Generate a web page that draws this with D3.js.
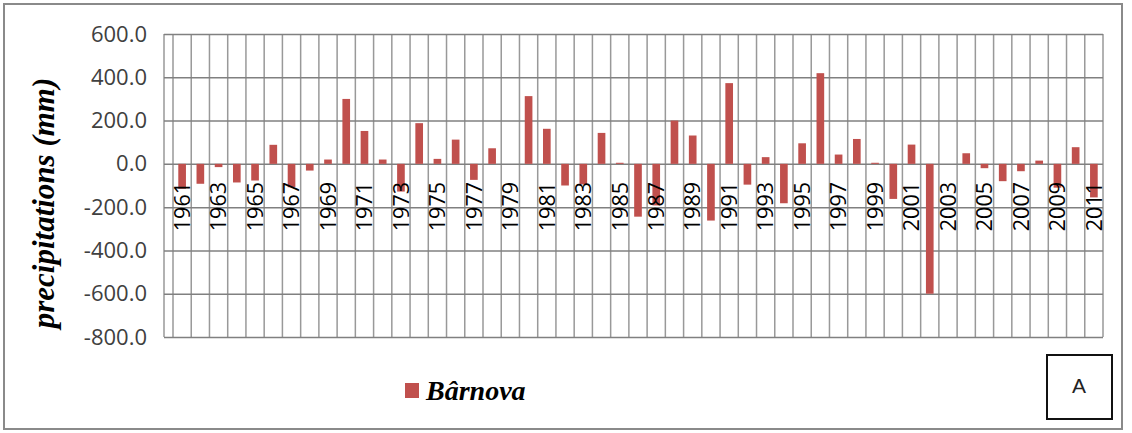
<!DOCTYPE html>
<html>
<head>
<meta charset="utf-8">
<script src="https://cdn.jsdelivr.net/npm/d3@7"></script>
<style>
  body { margin: 0; background: #fff; }
  svg { display: block; }
</style>
</head>
<body>
<div id="chart"></div>
<script>

// data: precipitation deviation per year (mm), Bârnova
var years       =   [1961, 1962, 1963, 1964, 1965, 1966, 1967, 1968, 1969, 1970,
                     1971, 1972, 1973, 1974, 1975, 1976, 1977, 1978, 1979, 1980,
                     1981, 1982, 1983, 1984, 1985, 1986, 1987, 1988, 1989, 1990,
                     1991, 1992, 1993, 1994, 1995, 1996, 1997, 1998, 1999, 2000,
                     2001, 2002, 2003, 2004, 2005, 2006, 2007, 2008, 2009, 2010,
                     2011];
var values      =   [-115, -92, -15, -86, -77, 88, -108, -31, 20, 300,
                     152, 20, -128, 188, 23, 112, -74, 72, 0, 313,
                     162, -100, -95, 143, 5, -244, -192, 200, 131, -262,
                     373, -96, 31, -182, 95, 419, 43, 115, 5, -162,
                     89, -600, 0, 49, -20, -80, -34, 15, -110, 77,
                     -155];
var year_labels =   [1961, 1963, 1965, 1967, 1969, 1971, 1973, 1975, 1977, 1979,
                     1981, 1983, 1985, 1987, 1989, 1991, 1993, 1995, 1997, 1999,
                     2001, 2003, 2005, 2007, 2009, 2011];
var y_ticks     =   [600, 400, 200, 0, -200, -400, -600, -800];
var series_name =   'Bârnova';
var panel_label =   'A';

// --------------------------------------------------------
// sizes
var chart_width     =   1132;
var chart_height    =   433;
var plot_left       =   164;
var plot_right      =   1103;
var plot_top        =   34;
var plot_bottom     =   337;
var bar_color       =   '#C0504D';

var svg = d3.select('#chart')
    .append('svg')
    .attr('width', chart_width)
    .attr('height', chart_height);

// outer frame
svg.append('rect')
    .attr('x', 4).attr('y', 4)
    .attr('width', 1118).attr('height', 425)
    .attr('fill', 'none')
    .attr('stroke', '#8a8a8a')
    .attr('stroke-width', 2);

// --------------------------------------------------------
// scales
const x_scale = d3.scaleBand()
    .domain(years)
    .range([173, plot_right])
    .padding(0);

const y_scale = d3.scaleLinear()
    .domain([-800, 600])
    .range([plot_bottom, plot_top]);

// vertical grid lines at category boundaries
var v_lines = years.map((d) => x_scale(d)).concat([plot_right, plot_left]);
svg.append('g')
    .selectAll('line')
    .data(v_lines)
    .enter()
    .append('line')
    .attr('x1', (d) => d).attr('x2', (d) => d)
    .attr('y1', plot_top).attr('y2', plot_bottom)
    .attr('stroke', '#999')
    .attr('stroke-width', 1.5);

// y axis with horizontal grid lines
const y_axis = d3.axisLeft(y_scale)
    .tickValues(y_ticks)
    .tickSize(-(plot_right - plot_left))
    .tickPadding(17)
    .tickFormat((d) => d.toFixed(1));   // plain hyphen minus, like the original

var gy = svg.append('g')
    .attr('class', 'y-axis')
    .attr('transform', 'translate(' + plot_left + ',0)')
    .call(y_axis);
gy.select('.domain').remove();
gy.selectAll('line')
    .attr('stroke', '#808080')
    .attr('stroke-width', 1.5);
gy.selectAll('text')
    .attr('fill', '#404040')
    .style('font-family', '"Open Sans", sans-serif')
    .style('font-size', '22px');

// --------------------------------------------------------
// bars
var bar_w = x_scale.bandwidth() * 0.42;
svg.append('g')
    .selectAll('rect')
    .data(values)
    .enter()
    .append('rect')
    .attr('x', (d, i) => x_scale(years[i]) + (x_scale.bandwidth() - bar_w) / 2)
    .attr('y', (d) => y_scale(Math.max(0, d)))
    .attr('width', bar_w)
    .attr('height', (d) => Math.abs(y_scale(d) - y_scale(0)))
    .attr('fill', bar_color);

// x axis labels (rotated, drawn over the bars)
const x_axis = d3.axisBottom(x_scale)
    .tickValues(year_labels)
    .tickSize(0);

var gx = svg.append('g')
    .attr('class', 'x-axis')
    .attr('transform', 'translate(0,182)')
    .call(x_axis);
gx.select('.domain').remove();
gx.selectAll('text')
    .attr('transform', 'rotate(-90)')
    .attr('x', 0).attr('y', 0)
    .attr('dy', '0.36em')
    .attr('text-anchor', 'end')
    .attr('fill', '#000')
    .style('font-family', '"Open Sans", sans-serif')
    .style('font-size', '21.5px');

// y title
svg.append('text')
    .attr('transform', 'translate(45,203) rotate(-90)')
    .attr('text-anchor', 'middle')
    .attr('dy', '0.3em')
    .style('font-family', '"Liberation Serif", "Times New Roman", serif')
    .style('font-weight', 'bold')
    .style('font-style', 'italic')
    .style('font-size', '31px')
    .text('precipitations (mm)');

// --------------------------------------------------------
// legend
svg.append('rect')
    .attr('x', 405).attr('y', 383)
    .attr('width', 14).attr('height', 15)
    .attr('fill', bar_color);
svg.append('text')
    .attr('x', 426).attr('y', 400)
    .style('font-family', '"Liberation Serif", "Times New Roman", serif')
    .style('font-weight', 'bold')
    .style('font-style', 'italic')
    .style('font-size', '28px')
    .text(series_name);

// panel letter box
svg.append('rect')
    .attr('x', 1047).attr('y', 355)
    .attr('width', 65).attr('height', 64)
    .attr('fill', '#fff')
    .attr('stroke', '#111')
    .attr('stroke-width', 2);
svg.append('text')
    .attr('x', 1079).attr('y', 393)
    .attr('text-anchor', 'middle')
    .attr('fill', '#222')
    .style('font-family', '"Liberation Sans", Arial, sans-serif')
    .style('font-size', '21px')
    .text(panel_label);

</script>
</body>
</html>
